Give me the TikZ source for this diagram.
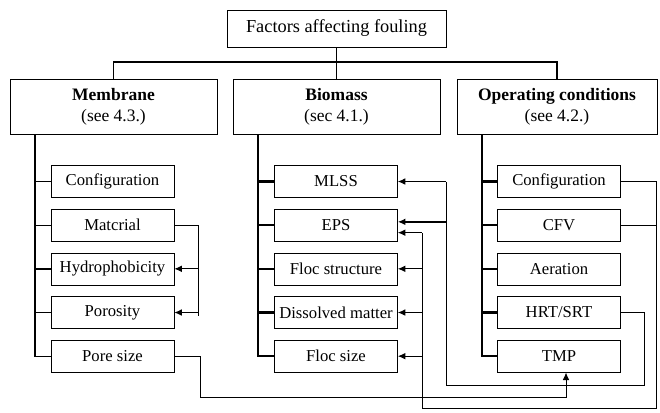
\documentclass[tikz,border=0pt]{standalone}
\usepackage{fontspec}
\setmainfont{Liberation Serif}
\usetikzlibrary{arrows.meta}
\usetikzlibrary{positioning}

\begin{document}
\begin{tikzpicture}[x=0.6pt,y=-0.6pt]
  \tikzset{vertex/.style = {shape=rectangle,draw,minimum width=73.8pt,minimum height=19.2pt,inner sep=1pt,font=\fontsize{10}{12}\selectfont}}
  \tikzset{group/.style = {shape=rectangle,draw,minimum width=124.2pt,minimum height=33pt,align=center,font=\fontsize{10.5}{12.5}\selectfont}}
  \tikzset{edge/.style = {->,> = {Latex[length=4.5pt,width=4pt]},semithick}}
  \tikzset{spine/.style = {line width=1.4pt}}

  \useasboundingbox (0,0) rectangle (660,412);

  \node[vertex,minimum width=131.4pt,minimum height=22.2pt,font=\fontsize{11}{13}\selectfont] (top) at (336.5,28.5) {Factors affecting fouling};
  \node[group] (mem) at (113.5,106.5) {\textbf{Membrane}\\(see 4.3.)};
  \node[group] (bio) at (336.5,106.5) {\textbf{Biomass}\\(sec 4.1.)};
  \node[group,minimum width=120pt] (opc) at (557,106.5) {\textbf{Operating conditions}\\(see 4.2.)};

  \node[vertex] (mcon) at (112.5,181.5) {Configuration};
  \node[vertex] (mmat) [below =6.6pt of mcon] {Matcrial};
  \node[vertex] (mhyd) [below =6.6pt of mmat] {Hydrophobicity};
  \node[vertex] (mpor) [below =6.6pt of mhyd] {Porosity};
  \node[vertex] (mpsz) [below =6.6pt of mpor] {Pore size};

  \node[vertex] (bmls) at (336,181.5) {MLSS};
  \node[vertex] (beps) [below =6.6pt of bmls] {EPS};
  \node[vertex] (bflo) [below =6.6pt of beps] {Floc structure};
  \node[vertex] (bdis) [below =6.6pt of bflo] {Dissolved matter};
  \node[vertex] (bfsz) [below =6.6pt of bdis] {Floc size};

  \node[vertex] (ocon) at (559,181.5) {Configuration};
  \node[vertex] (ocfv) [below =6.6pt of ocon] {CFV};
  \node[vertex] (oaer) [below =6.6pt of ocfv] {Aeration};
  \node[vertex] (ohrt) [below =6.6pt of oaer] {HRT/SRT};
  \node[vertex] (otmp) [below =6.6pt of ohrt] {TMP};

  % tree
  \coordinate (bus) at (0,62);
  \draw[line width=1.1pt] (mem.north) |- (opc.north |- bus) -- (opc.north);
  \draw[line width=1.1pt] (top.south) -- (bio.north);

  \coordinate (msp) at (35,0);
  \coordinate (bsp) at (258,0);
  \coordinate (osp) at (482,0);
  \draw[thick] (mem.south -| msp) |- (mpsz.west);
  \draw[spine] (bio.south -| bsp) |- (bfsz.west);
  \draw[spine] (opc.south -| osp) |- (otmp.west);
  \foreach \n in {mcon,mmat,mhyd,mpor}
    \draw[thick] (\n.west -| msp) -- (\n.west);
  \foreach \n in {bmls,beps,bflo,bdis}
    \draw[spine] (\n.west -| bsp) -- (\n.west);
  \foreach \n in {ocon,ocfv,oaer,ohrt}
    \draw[spine] (\n.west -| osp) -- (\n.west);

  % membrane links
  \coordinate (mj) at (198,0);
  \draw[semithick] (mmat.east) -| ([yshift=-2pt]mpor.east -| mj);
  \draw[edge] (mhyd.east -| mj) -- (mhyd.east);
  \draw[edge] (mpor.east -| mj) -- (mpor.east);

  \coordinate (pj) at (200,397);
  \coordinate (tj) at (566,0);
  \draw[edge] (mpsz.east) -| (pj) -| (otmp.south -| tj);

  % operating links
  \coordinate (epsa) at ([yshift=2pt]beps.east);
  \coordinate (epsb) at ([yshift=-4.5pt]beps.east);
  \coordinate (hj) at (644,385);
  \coordinate (bj) at (446,0);
  \draw[semithick] (ohrt.east) -| (hj) -| (bmls.east -| bj);
  \draw[edge] (bmls.east -| bj) -- (bmls.east);
  \draw[edge,thick] (epsa -| bj) -- (epsa);

  \coordinate (cj) at (656,408);
  \coordinate (ej) at (422,0);
  \draw[semithick] (ocon.east) -| (cj) -| (epsb -| ej);
  \draw[semithick] (ocfv.east) -- (ocfv.east -| cj);
  \draw[edge] (epsb -| ej) -- (epsb);
  \foreach \n in {bflo,bdis,bfsz}
    \draw[edge] (\n.east -| ej) -- (\n.east);

\end{tikzpicture}
\end{document}
